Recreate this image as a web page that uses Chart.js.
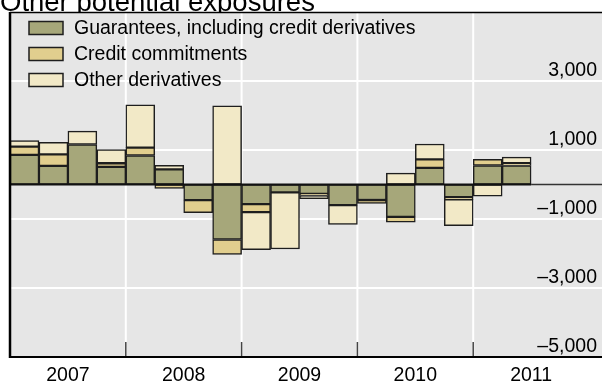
<!DOCTYPE html>
<html>
<head>
<meta charset="utf-8">
<script src="https://cdn.jsdelivr.net/npm/chart.js@4.4.1/dist/chart.umd.min.js"></script>
<style>
  html, body { margin: 0; padding: 0; background: #ffffff; }
  canvas { display: block; }
</style>
</head>
<body>
<canvas id="chart" width="602" height="383"></canvas>
<script>
// Quarterly categories, 2007 Q1 through 2011 Q4 (data runs to 2011 Q2)
const years = ['2007', '2008', '2009', '2010', '2011'];
const quarters = years.flatMap(y => ['Q1', 'Q2', 'Q3', 'Q4'].map(q => y + ' ' + q));

// Series values
const guarantees        = [860, 540, 1160, 510, 840, 440, -455, -1595, -570, -230, -270, -600, -450, -940, 480, -370, 550, 550];
const creditCommitments = [240, 335, 0, 105, 230, -115, -365, -435, -230, 0, -50, 0, -100, -155, 250, -60, 180, 70];
const otherDerivatives  = [175, 350, 385, 395, 1240, 115, 0, 2280, -1090, -1640, -90, -560, 0, 330, 445, -760, -340, 175];

// Value axis
const yMin = -5000;
const yMax = 5000;
const gridValues = [3000, 1000, -1000, -3000];
const yTickValues = [3000, 1000, -1000, -3000, -5000];
const yTickLabels = ['3,000', '1,000', '\u20131,000', '\u20133,000', '\u20135,000'];

const titleText = 'Other potential exposures';

const FONT = '"Liberation Sans", Arial, Helvetica, sans-serif';
const PANEL_BG = '#e6e6e6';
const EDGE = '#1e1e1e';

const framePlugin = {
  id: 'frame',
  beforeDraw(chart) {
    const { ctx, chartArea: a, scales: { x, y } } = chart;
    const W = chart.width;
    ctx.save();
    ctx.fillStyle = '#ffffff';
    ctx.fillRect(0, 0, W, chart.height);

    // title, partly covered by the panel
    ctx.fillStyle = '#000';
    ctx.font = '27.5px ' + FONT;
    ctx.textAlign = 'left';
    ctx.textBaseline = 'alphabetic';
    ctx.fillText(titleText, 0, 11);

    // panel
    ctx.fillStyle = PANEL_BG;
    ctx.fillRect(a.left, a.top, W - a.left, a.bottom - a.top);

    // horizontal grid
    ctx.strokeStyle = '#ffffff';
    ctx.lineWidth = 2;
    gridValues.forEach(v => {
      const py = Math.round(y.getPixelForValue(v));
      ctx.beginPath();
      ctx.moveTo(a.left, py);
      ctx.lineTo(W, py);
      ctx.stroke();
    });

    // vertical grid at year boundaries
    for (let k = 1; k < years.length; k++) {
      const px = (x.getPixelForValue(4 * k - 1) + x.getPixelForValue(4 * k)) / 2;
      ctx.beginPath();
      ctx.moveTo(px, a.top);
      ctx.lineTo(px, a.bottom);
      ctx.stroke();
    }
    ctx.restore();
  },
  afterDatasetsDraw(chart) {
    const { ctx, chartArea: a, scales: { x, y } } = chart;
    const W = chart.width;
    ctx.save();

    // zero line: heavier under the bars, lighter past the last bar
    const y0 = y.getPixelForValue(0);
    const lastIdx = guarantees.length - 1;
    const xEnd = x.getPixelForValue(lastIdx) + (x.getPixelForValue(1) - x.getPixelForValue(0)) / 2;
    ctx.strokeStyle = '#111';
    ctx.lineWidth = 2;
    ctx.beginPath();
    ctx.moveTo(a.left, y0);
    ctx.lineTo(xEnd, y0);
    ctx.stroke();
    ctx.strokeStyle = '#333';
    ctx.lineWidth = 1.3;
    ctx.beginPath();
    ctx.moveTo(xEnd, y0);
    ctx.lineTo(W, y0);
    ctx.stroke();

    // year ticks
    ctx.strokeStyle = '#444';
    ctx.lineWidth = 1.5;
    for (let k = 1; k < years.length; k++) {
      const px = (x.getPixelForValue(4 * k - 1) + x.getPixelForValue(4 * k)) / 2;
      ctx.beginPath();
      ctx.moveTo(px, a.bottom - 15);
      ctx.lineTo(px, a.bottom);
      ctx.stroke();
    }

    // frame: top, left, bottom
    ctx.strokeStyle = '#000';
    ctx.lineWidth = 1.5;
    ctx.beginPath();
    ctx.moveTo(a.left, a.top + 0.5);
    ctx.lineTo(W, a.top + 0.5);
    ctx.stroke();
    ctx.lineWidth = 2.5;
    ctx.beginPath();
    ctx.moveTo(a.left, a.top);
    ctx.lineTo(a.left, a.bottom + 1);
    ctx.stroke();
    ctx.lineWidth = 2;
    ctx.beginPath();
    ctx.moveTo(a.left, a.bottom);
    ctx.lineTo(W, a.bottom);
    ctx.stroke();

    // value labels, sitting above their grid lines
    ctx.fillStyle = '#000';
    ctx.font = '19.5px ' + FONT;
    ctx.textAlign = 'right';
    ctx.textBaseline = 'alphabetic';
    yTickValues.forEach((v, i) => {
      ctx.fillText(yTickLabels[i], 597, y.getPixelForValue(v) - 5);
    });

    // year labels
    ctx.textAlign = 'center';
    years.forEach((yr, k) => {
      const px = (x.getPixelForValue(4 * k + 1) + x.getPixelForValue(4 * k + 2)) / 2;
      ctx.fillText(yr, px, 381);
    });

    // legend
    const rows = [28, 54, 80];
    chart.data.datasets.forEach((ds, i) => {
      const cy = rows[i];
      ctx.fillStyle = ds.backgroundColor;
      ctx.fillRect(29, cy - 6.5, 34, 13);
      ctx.strokeStyle = EDGE;
      ctx.lineWidth = 1.5;
      ctx.strokeRect(29, cy - 6.5, 34, 13);
      ctx.fillStyle = '#000';
      ctx.textAlign = 'left';
      ctx.textBaseline = 'middle';
      ctx.fillText(ds.label, 74, cy + 1);
    });
    ctx.restore();
  }
};

new Chart(document.getElementById('chart'), {
  type: 'bar',
  data: {
    labels: quarters,
    datasets: [
      { label: 'Guarantees, including credit derivatives', data: guarantees, backgroundColor: '#a6a77a' },
      { label: 'Credit commitments', data: creditCommitments, backgroundColor: '#e1ce8e' },
      { label: 'Other derivatives', data: otherDerivatives, backgroundColor: '#f2e9c7' }
    ]
  },
  options: {
    responsive: false,
    animation: false,
    layout: { padding: { left: 10, top: 12, right: 13, bottom: 26 } },
    datasets: {
      bar: {
        borderColor: EDGE,
        borderWidth: 1.5,
        borderSkipped: false,
        barPercentage: 1,
        categoryPercentage: 1
      }
    },
    plugins: {
      legend: { display: false },
      tooltip: { enabled: false },
      title: { display: false }
    },
    scales: {
      x: { stacked: true, display: false },
      y: { stacked: true, display: false, min: yMin, max: yMax }
    }
  },
  plugins: [framePlugin]
});
</script>
</body>
</html>
